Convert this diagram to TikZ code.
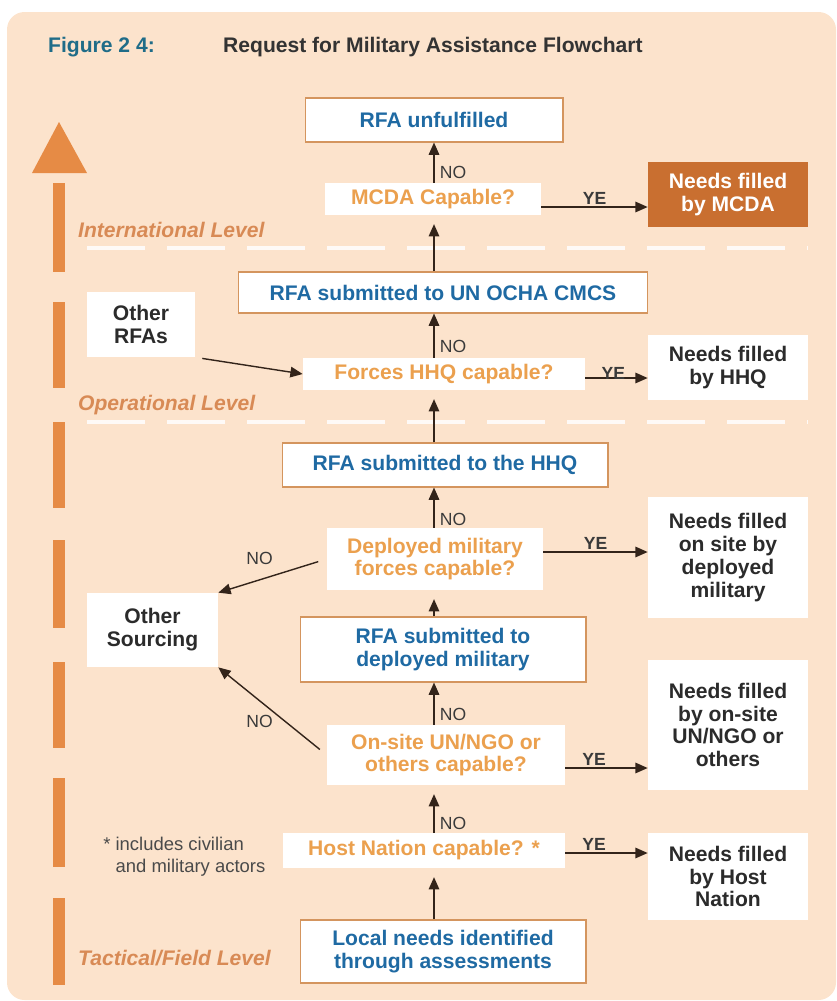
\documentclass[tikz,border=0pt]{standalone}
\usepackage{fontspec}
\setmainfont{Liberation Sans}
\usetikzlibrary{arrows.meta}

\definecolor{peach}{HTML}{FCE3CC}
\definecolor{barc}{HTML}{E68B45}
\definecolor{levelc}{HTML}{D88A55}
\definecolor{figc}{HTML}{1F6C88}
\definecolor{titlec}{HTML}{333333}
\definecolor{rfaline}{HTML}{D4955E}
\definecolor{rfablue}{HTML}{1F6AA3}
\definecolor{askorange}{HTML}{EBA04E}
\definecolor{needgray}{HTML}{2B2B2B}
\definecolor{mcdafill}{HTML}{C96F30}
\definecolor{arrowc}{HTML}{33241A}
\definecolor{labc}{HTML}{3A3A3A}
\definecolor{notec}{HTML}{4A4A4A}

\newcommand{\boxfont}{\bfseries\fontsize{12}{13}\selectfont}

\begin{document}
\begin{tikzpicture}[x=0.02cm, y=-0.02cm,
    rfa/.style={draw=rfaline, line width=0.6pt, fill=white, text=rfablue, font=\boxfont, align=center, inner sep=0pt},
    ask/.style={fill=white, text=askorange, font=\boxfont, align=center, inner sep=0pt},
    need/.style={fill=white, text=needgray, font=\boxfont, align=center, inner sep=0pt, minimum width=3.2cm},
    level/.style={anchor=west, text=levelc, font=\bfseries\itshape\fontsize{12}{14}\selectfont},
    flow/.style={draw=arrowc, line width=0.8pt, -{Triangle[length=7pt,width=6pt]}},
    into/.style={flow, shorten >=5pt},
    nolab/.style={text=labc, font=\fontsize{10}{12}\selectfont, inner sep=1pt},
    yelab/.style={text=labc, font=\bfseries\fontsize{10}{12}\selectfont, inner sep=1pt}]

    % Background
    \useasboundingbox (0,0) rectangle (836,1001);
    \fill[peach, rounded corners=0.35cm] (7,12) rectangle (836,1000);

    % Title
    \node[anchor=west, text=figc, font=\bfseries\fontsize{12}{14}\selectfont] (fig) at (42,47) {Figure 2 4:};
    \node[anchor=west, text=titlec, font=\bfseries\fontsize{12}{14}\selectfont] (title) at (217,47) {Request for Military Assistance Flowchart};

    % Level arrow
    \fill[barc] (32,173) -- (59,122) -- (87,173) -- cycle;
    \foreach \a/\b in {183/272, 302/388, 422/508, 540/628, 662/748, 778/867, 898/985}
        \fill[barc] (53,\a) rectangle (65,\b);

    % Level dividers
    \foreach \y in {248,422}
        \draw[white, opacity=0.85, line width=2.8pt, dash pattern=on 1.16cm off 0.44cm] (87,\y) -- (808,\y);

    \node[level] (intl) at (72,230) {International Level};
    \node[level] (oper) at (72,405) {Operational Level};
    \node[level] (tact) at (72,958) {Tactical/Field Level};

    % Boxes
    \node[rfa, minimum width=5.16cm, minimum height=0.88cm] (un) at (434,120) {RFA unfulfilled};
    \node[ask, minimum width=4.32cm, minimum height=0.64cm] (mcda) at (433,199) {MCDA Capable?};
    \node[need, fill=mcdafill, text=white, minimum height=1.3cm] (nmcda) at (728,194.5) {Needs filled\\by MCDA};
    \node[rfa, minimum width=8.2cm, minimum height=0.82cm] (ocha) at (443,292.5) {RFA submitted to UN OCHA CMCS};
    \node[need, minimum width=2.16cm, minimum height=1.3cm] (orfa) at (141,324.5) {Other\\RFAs};
    \node[ask, minimum width=5.64cm, minimum height=0.64cm] (forces) at (444,374) {Forces HHQ capable?};
    \node[need, minimum height=1.3cm] (nhhq) at (728,367.5) {Needs filled\\by HHQ};
    \node[rfa, minimum width=6.52cm, minimum height=0.88cm] (hhq) at (445,465) {RFA submitted to the HHQ};
    \node[ask, minimum width=4.32cm, minimum height=1.24cm] (deployed) at (435,559) {Deployed military\\forces capable?};
    \node[need, minimum height=2.42cm] (ndep) at (728,557.5) {Needs filled\\on site by\\deployed\\military};
    \node[need, minimum width=2.62cm, minimum height=1.48cm] (osrc) at (152.5,630) {Other\\Sourcing};
    \node[rfa, minimum width=5.72cm, minimum height=1.3cm] (rdep) at (443,649.5) {RFA submitted to\\deployed military};
    \node[ask, minimum width=4.76cm, minimum height=1.2cm] (onsite) at (446,755) {On-site UN/NGO or\\others capable?};
    \node[need, minimum height=2.6cm] (nons) at (728,725) {Needs filled\\by on-site\\UN/NGO or\\others};
    \node[ask, minimum width=5.64cm, minimum height=0.7cm] (host) at (424,850.5) {Host Nation capable? *};
    \node[need, minimum height=1.74cm] (nhost) at (728,876.5) {Needs filled\\by Host\\Nation};
    \node[rfa, minimum width=5.72cm, minimum height=1.26cm] (local) at (443,951.5) {Local needs identified\\through assessments};

    % Footnote
    \node[anchor=west, text=notec, align=left, inner sep=0pt, font=\fontsize{10.5}{12.5}\selectfont] (note) at (103,857) {* includes civilian\\\phantom{*}\ and military actors};

    % Upward flow
    \coordinate (spine) at (434,0);
    \draw[flow] (spine |- mcda.north) -- (spine |- un.south) node[nolab, pos=0.25, anchor=west, xshift=2pt] {NO};
    \draw[into] (spine |- ocha.north) -- (spine |- mcda.south);
    \draw[flow] (spine |- forces.north) -- (spine |- ocha.south) node[nolab, pos=0.25, anchor=west, xshift=2pt] {NO};
    \draw[into] (spine |- hhq.north) -- (spine |- forces.south);
    \draw[flow] (spine |- deployed.north) -- (spine |- hhq.south) node[nolab, pos=0.2, anchor=west, xshift=2pt] {NO};
    \draw[into] (spine |- rdep.north) -- (spine |- deployed.south);
    \draw[flow] (spine |- onsite.north) -- (spine |- rdep.south) node[nolab, pos=0.25, anchor=west, xshift=2pt] {NO};
    \draw[into] (spine |- host.north) -- (spine |- onsite.south) node[nolab, pos=0.2, anchor=west, xshift=2pt] {NO};
    \draw[into] (spine |- local.north) -- (spine |- host.south);

    % YES branches
    \coordinate (yeA) at (0,207);
    \coordinate (yeB) at (0,378);
    \coordinate (yeC) at (0,552);
    \coordinate (yeD) at (0,768);
    \coordinate (yeE) at (0,853);
    \draw[flow] (yeA -| mcda.east) -- (yeA -| nmcda.west) node[yelab, pos=0.5, above] {YE};
    \draw[flow] (yeB -| forces.east) -- (yeB -| nhhq.west) node[yelab, pos=0.45, above=-2pt] {YE};
    \draw[flow] (yeC -| deployed.east) -- (yeC -| ndep.west) node[yelab, pos=0.5, above] {YE};
    \draw[flow] (yeD -| onsite.east) -- (yeD -| nons.west) node[yelab, pos=0.35, above] {YE};
    \draw[flow] (yeE -| host.east) -- (yeE -| nhost.west) node[yelab, pos=0.35, above] {YE};

    % Side branches
    \draw[flow, shorten <=4pt] (orfa.south east) -- (forces.west);
    \draw[flow, shorten <=5pt] (deployed.west) -- (osrc.north east) node[nolab, pos=0.62, above=7pt] {NO};
    \draw[flow, shorten <=5pt] (onsite.west) -- (osrc.south east) node[nolab, pos=0.62, below=7pt] {NO};
\end{tikzpicture}
\end{document}
